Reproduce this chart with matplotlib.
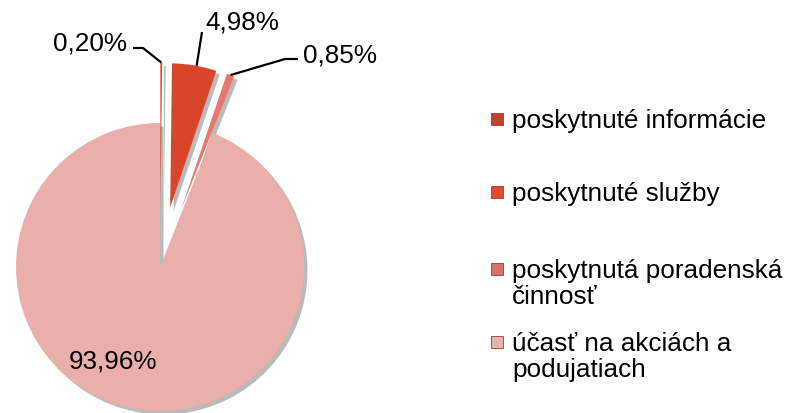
import matplotlib.pyplot as plt
import numpy as np
from matplotlib.patches import Rectangle

plt.rcParams['font.family'] = ['Liberation Sans', 'DejaVu Sans']

# data
categories = ['poskytnuté informácie', 'poskytnuté služby',
              'poskytnutá poradenská\nčinnosť', 'účasť na akciách a\npodujatiach']
values = [0.20, 4.98, 0.85, 93.96]
labels = ['0,20%', '4,98%', '0,85%', '93,96%']
colors = ['#D2432C', '#DA4529', '#E8776C', '#EBAFAB']
legend_colors = ['#C4412D', '#E04B2B', '#D9716A', '#E9B3AF']

W, H = 790, 414
R = 144
explode = [0.42 * R, 0.42 * R, 0.42 * R, 0.0]  # pie() wants data units

fig = plt.figure(figsize=(W / 100, H / 100), dpi=100)
ax = fig.add_axes([0, 0, 1, 1])

wedges, _ = ax.pie(values, colors=colors, explode=explode, startangle=90,
                   counterclock=False, radius=R, center=(160, H - 268),
                   wedgeprops=dict(linewidth=0),
                   shadow={'ox': 2.5, 'oy': -2.5, 'facecolor': '#8c8c8c',
                           'edgecolor': 'none', 'alpha': 0.6})
ax.set_xlim(0, W)
ax.set_ylim(0, H)
ax.set_aspect('equal')
ax.axis('off')


def px(x, y):
    return x, H - y


def arc_point(w, frac):
    ang = np.deg2rad(w.theta1 + (w.theta2 - w.theta1) * frac)
    cx, cy = w.center
    return cx + w.r * np.cos(ang), cy + w.r * np.sin(ang)


fs = 18.8
lw = 1.6
# 0,20%
p = arc_point(wedges[0], 0.5)
xs, ys = zip(px(133, 49), px(143, 49), p)
ax.plot(xs, ys, color='black', lw=lw, solid_capstyle='butt')
ax.text(*px(127, 43), labels[0], ha='right', va='center', fontsize=fs)
# 4,98%
p = arc_point(wedges[1], 0.45)
xs, ys = zip(p, px(202, 33))
ax.plot(xs, ys, color='black', lw=lw, solid_capstyle='butt')
ax.text(*px(205, 22), labels[1], ha='left', va='center', fontsize=fs)
# 0,85%
p = arc_point(wedges[2], 0.5)
xs, ys = zip(p, px(285, 60), px(298, 60))
ax.plot(xs, ys, color='black', lw=lw, solid_capstyle='butt')
ax.text(*px(303, 55), labels[2], ha='left', va='center', fontsize=fs)
# 93,96%
ax.text(*px(113, 362), labels[3], ha='center', va='center', fontsize=fs)

# legend
leg_y = [120, 193, 270, 343]
for name, col, y in zip(categories, legend_colors, leg_y):
    x0, y0 = px(491, y + 6)
    ax.add_patch(Rectangle((x0, y0), 12, 12, facecolor=col,
                           edgecolor='#9c3a30', lw=0.6))
    ax.text(*px(512, y - 11), name, ha='left', va='top', fontsize=fs,
            linespacing=1.12)

fig.savefig('out.png', dpi=100)
